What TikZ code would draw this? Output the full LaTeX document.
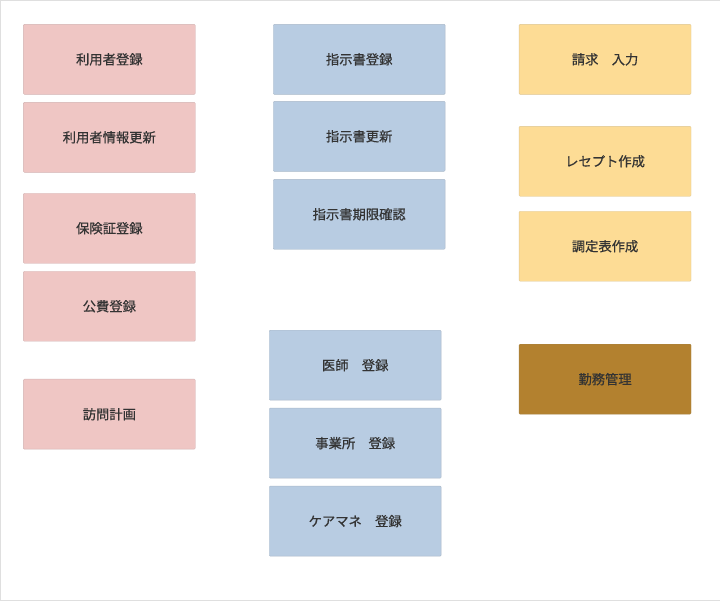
\documentclass[tikz,border=0pt]{standalone}
\usepackage{fontspec}
\newfontfamily\jpfont[FakeBold=0.6]{Noto Sans CJK JP}
\usepackage{tikz}
\usetikzlibrary{positioning}
\definecolor{pinkfill}{HTML}{EFC6C4}
\definecolor{bluefill}{HTML}{B8CCE2}
\definecolor{yellowfill}{HTML}{FDDC95}
\definecolor{brownfill}{HTML}{B3812F}
\definecolor{txtgray}{HTML}{333333}
\newcommand{\boxw}{172pt}
\newcommand{\boxh}{70pt}

\begin{document}
\begin{tikzpicture}[x=1pt, y=-1pt]
        \tikzset{card/.style = {rectangle, rounded corners=1pt, anchor=north west,
            minimum width=\boxw, minimum height=\boxh, inner sep=0pt,
            font=\jpfont\fontsize{13.3}{15}\selectfont, text=txtgray}}
        \tikzset{pinkcard/.style = {card, fill=pinkfill, draw=pinkfill!75!gray}}
        \tikzset{bluecard/.style = {card, fill=bluefill, draw=bluefill!75!gray}}
        \tikzset{yellowcard/.style = {card, fill=yellowfill, draw=yellowfill!75!gray}}
        \tikzset{browncard/.style = {card, fill=brownfill, draw=brownfill!75!gray}}
        
        \draw[draw=gray!25, fill=white] (0,0) rectangle (720,600);
        
        % left column
        \node[pinkcard] (riyou) at (23,24) {利用者登録};
        \node[pinkcard] (riyoukoushin) at (23,102) {利用者情報更新};
        \node[pinkcard] (hoken) at (23,193) {保険証登録};
        \node[pinkcard] (kouhi) at (23,271) {公費登録};
        \node[pinkcard] (houmon) at (23,379) {訪問計画};
        
        % middle column
        \node[bluecard] (shiji) at (273,24) {指示書登録};
        \node[bluecard] (shijikoushin) at (273,101) {指示書更新};
        \node[bluecard] (shijikigen) at (273,179) {指示書期限確認};
        
        \node[bluecard] (ishi) at (269,330) {医師　登録};
        \node[bluecard] (jigyousho) at (269,408) {事業所　登録};
        \node[bluecard] (caremane) at (269,486) {ケアマネ　登録};
        
        % right column
        \node[yellowcard] (seikyuu) at (519,24) {請求　入力};
        \node[yellowcard] (receipt) at (519,126) {レセプト作成};
        \node[yellowcard] (choutei) at (519,211) {調定表作成};
        
        \node[browncard] (kinmu) at (519,344) {勤務管理};
        
    \end{tikzpicture}
\end{document}
